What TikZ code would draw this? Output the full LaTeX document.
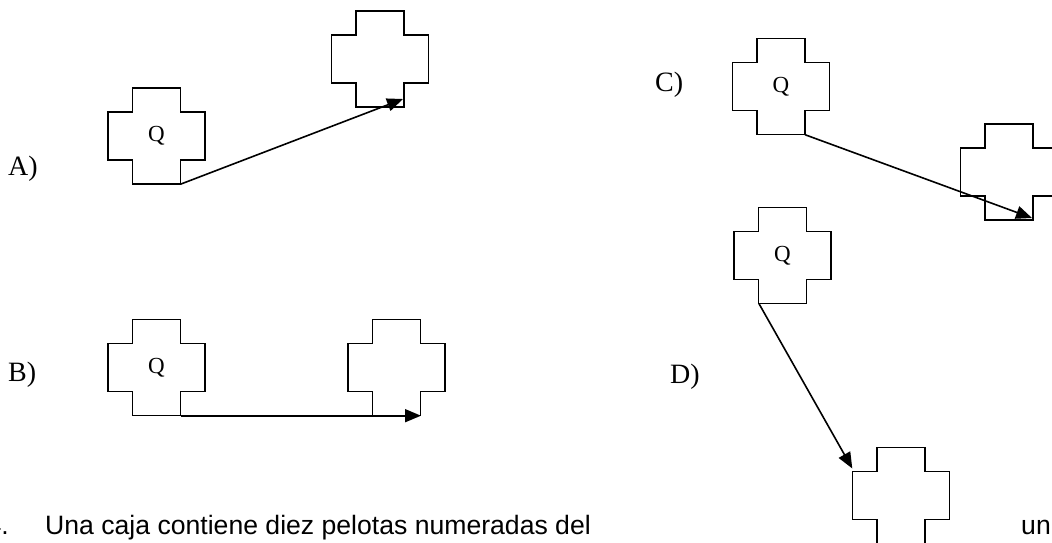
\documentclass[tikz,border=0pt]{standalone}
\usepackage{fontspec}
\setmainfont{Liberation Serif}
\newfontfamily\textsans{Liberation Sans}
\usetikzlibrary{arrows.meta}

% cross outline drawn around a named (invisible) box node
\newcommand\drawcross[1]{%
  \draw[crossline, shift={(#1.center)}]
    (-24,-48) -- (24,-48) -- (24,-24) -- (48.5,-24) -- (48.5,24) -- (24,24)
    -- (24,48) -- (-24,48) -- (-24,24) -- (-48.5,24) -- (-48.5,-24) -- (-24,-24) -- cycle;}

\tikzset{
  crossbox/.style={minimum width=97pt, minimum height=96pt, inner sep=0pt,
    font=\fontsize{23}{25}\selectfont},
  crossline/.style={line width=1.9pt, line join=miter},
  connector/.style={line width=1.6pt, -{Triangle[length=16pt,width=13pt]}},
  optlabel/.style={font=\fontsize{28}{30}\selectfont, anchor=base west, inner sep=0pt},
  bodytext/.style={font=\textsans\fontsize{26.6}{28}\selectfont, inner sep=0pt},
}

\begin{document}
\begin{tikzpicture}[x=1pt,y=-1pt]
  \useasboundingbox (0,0) rectangle (1052,543);
  \clip (0,0) rectangle (1052,543);

  % option A
  \node[optlabel] (la) at (8,175) {A)};
  \node[crossbox] (a1) at (156.5,136) {Q};
  \node[crossbox] (a2) at (380,59) {};
  \drawcross{a1}
  \drawcross{a2}
  \draw[connector] ([xshift=24pt]a1.south) -- ([shift={(23,40)}]a2.center);

  % option B
  \node[optlabel] (lb) at (8,381) {B)};
  \node[crossbox] (b1) at (156.5,367.5) {Q};
  \node[crossbox] (b2) at (396.5,367.5) {};
  \drawcross{b1}
  \drawcross{b2}
  \draw[connector] ([xshift=24.5pt]b1.south) -- ([xshift=24.5pt]b2.south);

  % option C
  \node[optlabel] (lc) at (655,92) {C)};
  \node[crossbox] (c1) at (781,86.5) {Q};
  \node[crossbox] (c2) at (1009,172) {};
  \drawcross{c1}
  \drawcross{c2}
  \draw[connector] ([xshift=24pt]c1.south) -- ([shift={(23,46)}]c2.center);

  % option D
  \node[optlabel] (ld) at (670,383) {D)};
  \node[crossbox] (d1) at (782.5,255.5) {Q};
  \node[crossbox] (d2) at (901,495.5) {};
  \drawcross{d1}
  \drawcross{d2}
  \draw[connector] ([xshift=-23.5pt]d1.south) -- ([shift={(0,-27)}]d2.west);

  % next question, partly visible
  \node[bodytext, anchor=base east] (qn) at (9,534) {4.};
  \node[bodytext, anchor=base west] (qt) at (45,534) {Una caja contiene diez pelotas numeradas del};
  \node[bodytext, anchor=base west] (qe) at (1021,534) {un};
\end{tikzpicture}
\end{document}
